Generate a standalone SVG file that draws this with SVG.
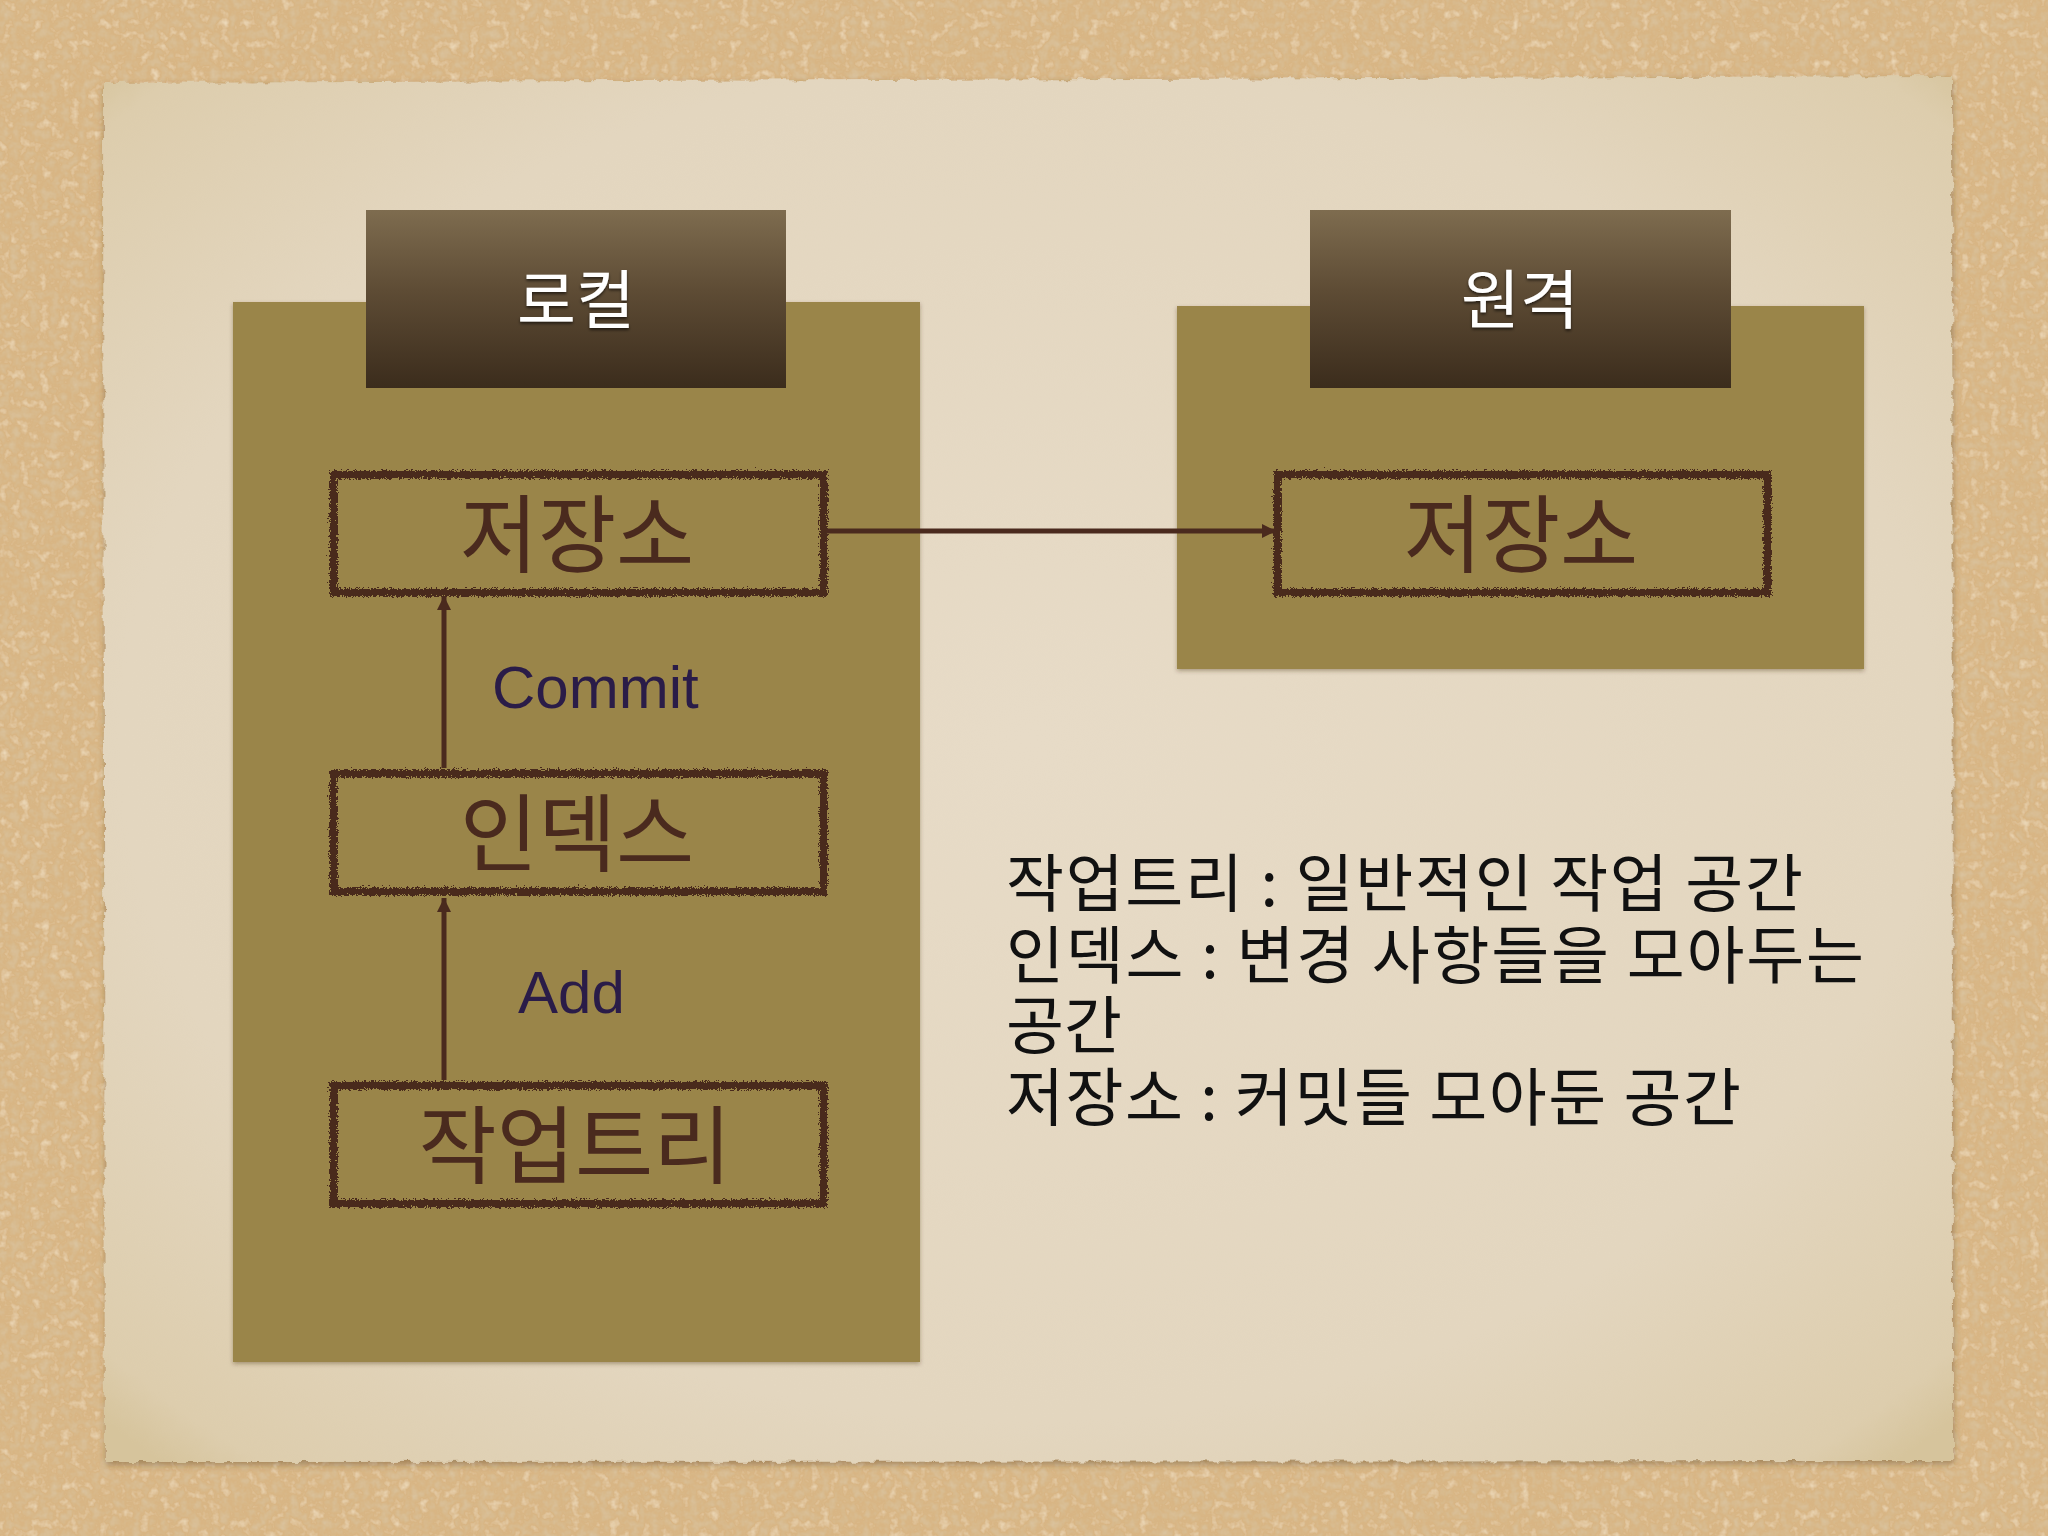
<svg xmlns="http://www.w3.org/2000/svg" width="2048" height="1536" viewBox="0 0 2048 1536">
<defs>
<style>
.hdr{font-family:"Noto Sans CJK KR","Noto Sans",sans-serif;font-size:64px;fill:#ffffff;text-anchor:middle}
.box{fill:none;stroke:#4a2a1e;stroke-width:8}
.boxt{font-family:"Noto Sans CJK KR","Noto Sans",sans-serif;font-size:85px;fill:#4a2a1e;text-anchor:middle}
.lbl{font-family:"Liberation Sans",Arial,sans-serif;font-size:60px;fill:#2a1c48}
.leg{font-family:"Noto Sans CJK KR","Noto Sans",sans-serif;font-size:63px;fill:#111111}
.conn{stroke:#4a2a1e;stroke-width:5;fill:none}
.panel{fill:#9a8549}
</style>
<filter id="sand" x="0" y="0" width="100%" height="100%">
<feTurbulence type="fractalNoise" baseFrequency="0.1" numOctaves="3" seed="3" result="n"/>
<feColorMatrix in="n" type="matrix" values="0 0 0 0 0.70  0 0 0 0 0.56  0 0 0 0 0.36  1.8 0 0 0 -0.85" result="dark"/>
<feColorMatrix in="n" type="matrix" values="0 0 0 0 0.90  0 0 0 0 0.78  0 0 0 0 0.58  -1.8 0 0 0 0.8" result="light"/>
<feMerge><feMergeNode in="SourceGraphic"/><feMergeNode in="dark"/><feMergeNode in="light"/></feMerge>
</filter>
<filter id="torn" x="-2%" y="-2%" width="104%" height="104%">
<feTurbulence type="fractalNoise" baseFrequency="0.08" numOctaves="3" seed="7" result="t"/>
<feDisplacementMap in="SourceGraphic" in2="t" scale="7" xChannelSelector="R" yChannelSelector="G" result="d"/>
<feGaussianBlur in="SourceAlpha" stdDeviation="3" result="b"/>
<feOffset in="b" dx="1" dy="3" result="ob"/>
<feFlood flood-color="#5a4020" flood-opacity="0.4"/>
<feComposite in2="ob" operator="in" result="sh"/>
<feMerge><feMergeNode in="sh"/><feMergeNode in="d"/></feMerge>
</filter>
<filter id="rough" x="-5%" y="-20%" width="110%" height="140%">
<feTurbulence type="turbulence" baseFrequency="0.45" numOctaves="2" seed="4" result="t"/>
<feDisplacementMap in="SourceGraphic" in2="t" scale="6" xChannelSelector="R" yChannelSelector="G"/>
</filter>
<filter id="pshadow" x="-5%" y="-5%" width="110%" height="110%">
<feDropShadow dx="0" dy="2" stdDeviation="2" flood-color="#3a2a10" flood-opacity="0.35"/>
</filter>
<filter id="tshadow" x="-10%" y="-10%" width="120%" height="130%">
<feDropShadow dx="0" dy="2" stdDeviation="1.5" flood-color="#000000" flood-opacity="0.6"/>
</filter>
<radialGradient id="paperG" cx="50%" cy="48%" r="70%">
<stop offset="0" stop-color="#e7dbc7"/>
<stop offset="0.7" stop-color="#e3d6bf"/>
<stop offset="0.95" stop-color="#ddcdad"/>
<stop offset="1" stop-color="#d6c49c"/>
</radialGradient>
<linearGradient id="hdrG" x1="0" y1="0" x2="0" y2="1">
<stop offset="0" stop-color="#7e6c4f"/>
<stop offset="0.45" stop-color="#5e4c35"/>
<stop offset="1" stop-color="#3b2c1c"/>
</linearGradient>
<marker id="arrow" viewBox="0 0 10 10" refX="10" refY="5" markerWidth="17" markerHeight="14" markerUnits="userSpaceOnUse" orient="auto">
<path d="M0,0 L10,5 L0,10 z" fill="#4a2a1e"/>
</marker>
</defs>

<rect x="0" y="0" width="2048" height="1536" fill="#d8b584" filter="url(#sand)"/>

<g id="paper">
<polygon points="103,83 1952,76 1953,1461 105,1462" fill="url(#paperG)" filter="url(#torn)"/>
</g>

<g id="local-panel">
<rect class="panel" x="233" y="302" width="687" height="1060" filter="url(#pshadow)"/>
</g>
<g id="remote-panel">
<rect class="panel" x="1177" y="306" width="687" height="363" filter="url(#pshadow)"/>
</g>

<g id="local-header">
<rect x="366" y="210" width="420" height="178" fill="url(#hdrG)"/>
<text class="hdr" x="576" y="323" filter="url(#tshadow)">로컬</text>
</g>
<g id="remote-header">
<rect x="1310" y="210" width="421" height="178" fill="url(#hdrG)"/>
<text class="hdr" x="1520" y="323" filter="url(#tshadow)">원격</text>
</g>

<g id="local-repo">
<rect class="box" x="332" y="473" width="490" height="118" filter="url(#rough)"/>
<text class="boxt" x="577" y="566">저장소</text>
</g>
<g id="remote-repo">
<rect class="box" x="1276" y="473" width="490" height="118" filter="url(#rough)"/>
<text class="boxt" x="1521" y="566">저장소</text>
</g>
<g id="index">
<rect class="box" x="332" y="772" width="490" height="118" filter="url(#rough)"/>
<text class="boxt" x="577" y="865">인덱스</text>
</g>
<g id="worktree">
<rect class="box" x="332" y="1084" width="490" height="118" filter="url(#rough)"/>
<text class="boxt" x="575" y="1177">작업트리</text>
</g>

<g id="connectors">
<line class="conn" x1="444" y1="768" x2="444" y2="596" marker-end="url(#arrow)"/>
<line class="conn" x1="444" y1="1080" x2="444" y2="898" marker-end="url(#arrow)"/>
<line class="conn" x1="826" y1="531" x2="1276" y2="531" marker-end="url(#arrow)"/>
<text class="lbl" x="492" y="708">Commit</text>
<text class="lbl" x="518" y="1013">Add</text>
</g>

<g id="legend">
<text class="leg" x="1006" y="906" textLength="797" lengthAdjust="spacing">작업트리 : 일반적인 작업 공간</text>
<text class="leg" x="1006" y="978" textLength="858" lengthAdjust="spacing">인덱스 : 변경 사항들을 모아두는</text>
<text class="leg" x="1006" y="1048">공간</text>
<text class="leg" x="1006" y="1120" textLength="735" lengthAdjust="spacing">저장소 : 커밋들 모아둔 공간</text>
</g>
</svg>
